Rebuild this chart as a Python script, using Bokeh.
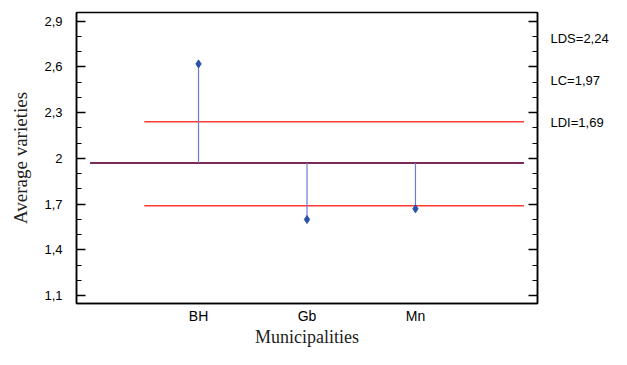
from bokeh.plotting import figure
from bokeh.models import Range1d, FixedTicker, LinearAxis
from bokeh.embed import file_html
from bokeh.resources import INLINE

# ---- data ----
municipalities = ["BH", "Gb", "Mn"]
mun_pos = [1, 2, 3]
avg_varieties = [2.62, 1.60, 1.67]
LC = 1.97
LDS = 2.24
LDI = 1.69
lc_span = [0, 4]
limit_span = [0.5, 4]
y_ticks = [1.1, 1.4, 1.7, 2.0, 2.3, 2.6, 2.9]
y_tick_labels = ["1,1", "1,4", "1,7", "2", "2,3", "2,6", "2,9"]
y_minor = [1.1, 1.2, 1.3, 1.4, 1.5, 1.6, 1.7, 1.8, 1.9, 2.0, 2.1, 2.2, 2.3, 2.4,
           2.5, 2.6, 2.7, 2.8, 2.9]
annot_texts = ["LDS=2,24", "LC=1,97", "LDI=1,69"]

SANS = "Liberation Sans"
SERIF = "Liberation Serif"

W, H = 611, 349
FL, FT, FR, FB = 76, 12, 537, 315  # wanted frame edges on canvas
p = figure(width=W, height=H, output_backend="svg", toolbar_location=None,
           x_range=Range1d(-0.125, 4.125), y_range=Range1d(1.049, 2.957))
p.extra_y_ranges = {"annot": Range1d(0, 1)}
p.min_border_left = FL
p.min_border_right = W - FR
p.min_border_top = FT
p.min_border_bottom = H - FB
p.grid.visible = False
p.outline_line_color = "black"
p.outline_line_width = 1.5
p.background_fill_color = "white"
p.border_fill_color = "white"

# left axis
ya = p.yaxis[0]
ya.ticker = FixedTicker(ticks=y_ticks, minor_ticks=y_minor)
ya.major_label_overrides = dict(zip(y_ticks, y_tick_labels))
ya.major_tick_in = 9
ya.major_tick_out = 0
ya.minor_tick_in = 5
ya.minor_tick_out = 0
ya.axis_line_width = 1.5
ya.major_tick_line_width = 1.5
ya.minor_tick_line_width = 1.2
ya.major_label_text_font = SANS
ya.major_label_text_font_size = "13px"
ya.major_label_text_color = "black"
ya.major_label_standoff = 14
ya.axis_label = "Average varieties"
ya.axis_label_text_font = SERIF
ya.axis_label_text_font_style = "normal"
ya.axis_label_text_font_size = "19px"
ya.axis_label_text_color = "#222222"
ya.axis_label_standoff = 10

# right axis (ticks only)
ra = LinearAxis(ticker=FixedTicker(ticks=y_ticks, minor_ticks=y_minor))
ra.major_label_overrides = {t: "" for t in y_ticks}
ra.major_tick_in = 9
ra.major_tick_out = 0
ra.minor_tick_in = 5
ra.minor_tick_out = 0
ra.axis_line_width = 1.5
ra.major_tick_line_width = 1.5
ra.minor_tick_line_width = 1.2
ra.major_label_standoff = 0
p.add_layout(ra, "right")

# right-hand annotations (as labels of a line-less axis)
annot_pos = [0.911, 0.767, 0.623]  # fraction of frame height
aa = LinearAxis(y_range_name="annot", ticker=FixedTicker(ticks=annot_pos, minor_ticks=[]))
aa.major_label_overrides = dict(zip(annot_pos, annot_texts))
aa.axis_line_color = None
aa.major_tick_line_color = None
aa.minor_tick_line_color = None
aa.major_tick_in = 0
aa.major_tick_out = 0
aa.major_label_standoff = 13
aa.major_label_text_font = SANS
aa.major_label_text_font_size = "13px"
aa.major_label_text_color = "black"
p.add_layout(aa, "right")

# bottom axis
xa = p.xaxis[0]
xa.ticker = FixedTicker(ticks=mun_pos)
xa.major_label_overrides = dict(zip(mun_pos, municipalities))
xa.major_tick_line_color = None
xa.minor_tick_line_color = None
xa.major_tick_in = 0
xa.major_tick_out = 0
xa.axis_line_width = 1.5
xa.major_label_text_font = SANS
xa.major_label_text_font_size = "14px"
xa.major_label_text_color = "black"
xa.major_label_standoff = 4
xa.axis_label = "Municipalities"
xa.axis_label_text_font = SERIF
xa.axis_label_text_font_style = "normal"
xa.axis_label_text_font_size = "18px"
xa.axis_label_text_color = "#222222"
xa.axis_label_standoff = 0

# reference lines
p.line(lc_span, [LC, LC], line_color="#7b2a55", line_width=2)
p.line(limit_span, [LDS, LDS], line_color="#ff3b30", line_width=1.5)
p.line(limit_span, [LDI, LDI], line_color="#ff3b30", line_width=1.5)

# stems and points
p.segment(x0=mun_pos, y0=[LC] * len(mun_pos), x1=mun_pos, y1=avg_varieties,
          line_color="#6f7bd0", line_width=1.2)
p.scatter(mun_pos, avg_varieties, marker="diamond", size=8,
          fill_color="#2a52a8", line_color="#2a52a8")

open("out.html", "w").write(file_html(p, INLINE))
